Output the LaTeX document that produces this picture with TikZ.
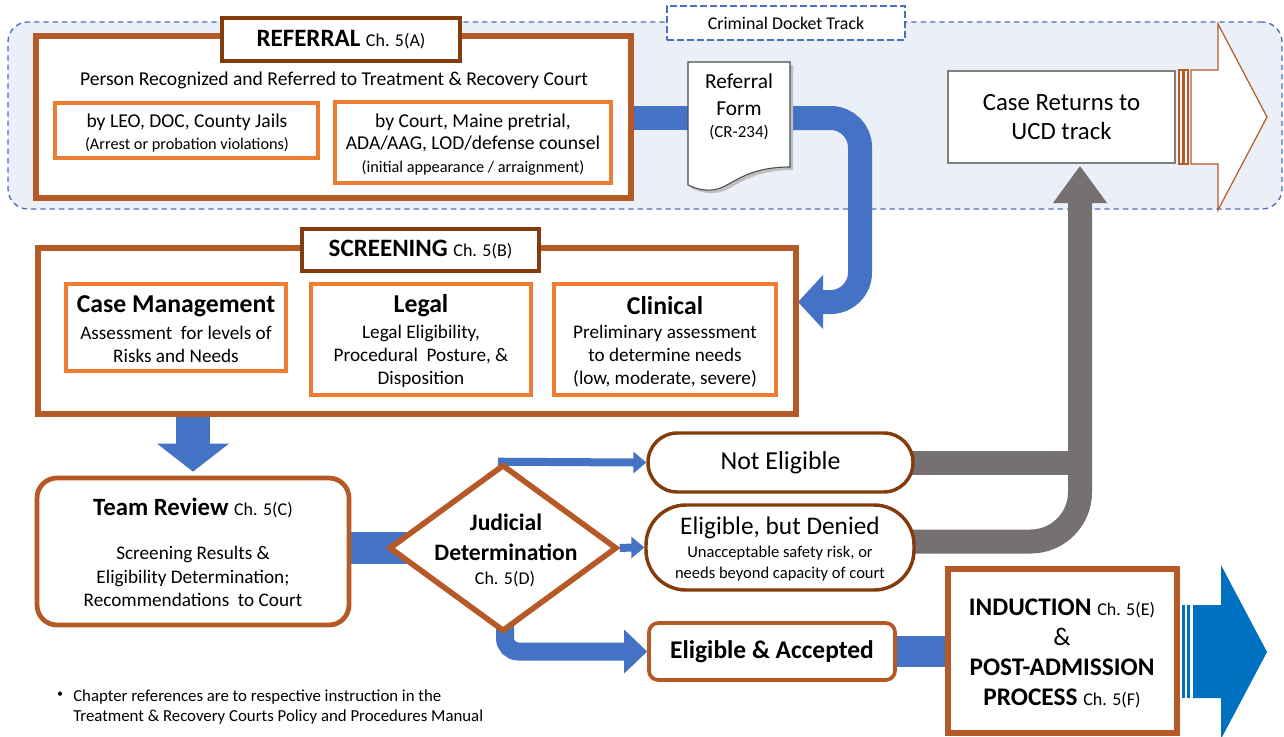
\documentclass[tikz,border=0pt]{standalone}
\usepackage{fontspec}
\setmainfont{Carlito}
\usetikzlibrary{shapes.geometric,fit,calc}
\definecolor{brn}{HTML}{B55A26}
\definecolor{dbrn}{HTML}{843C0C}
\definecolor{org}{HTML}{ED7D31}
\definecolor{blu}{HTML}{4472C4}
\definecolor{dblu}{HTML}{0070C0}
\definecolor{gry}{HTML}{767171}
\definecolor{bgfill}{HTML}{EAEFF8}
\definecolor{dashc}{HTML}{4A70BC}
\newcommand\szBig{\fontsize{18.75pt}{22pt}\selectfont}
\newcommand\szHead{\fontsize{18.6pt}{22pt}\selectfont}
\newcommand\szMid{\fontsize{19pt}{22pt}\selectfont}
\newcommand\szCh{\fontsize{13.5pt}{16pt}\selectfont}
\pgfdeclarelayer{back}
\pgfdeclarelayer{mid}
\pgfsetlayers{back,mid,main}
\tikzset{
  bx/.style={inner sep=0pt, fill=white},
  outerbox/.style={bx, draw=brn, line width=4.5pt},
  titlebox/.style={bx, draw=dbrn, line width=2.4pt},
  innerbox/.style={bx, draw=org, line width=2.9pt},
  pillbox/.style={bx, draw=dbrn, line width=2.6pt},
  txt/.style={inner sep=0pt, align=center},
}
\begin{document}
\begin{tikzpicture}[x=0.75pt,y=-0.75pt]
\useasboundingbox (0,0) rectangle (1284,736);

% ---------- background track ----------
\begin{pgfonlayer}{back}
\node[fit={(8,22)(1282,209)}, inner sep=0pt, fill=bgfill, draw=dashc, line width=1pt,
      dash pattern=on 4pt off 3pt, rounded corners=15pt] (track) {};
\end{pgfonlayer}
\node[fit={(667,6)(905,40)}, inner sep=0pt, fill=white, draw=dashc, line width=1.9pt,
      dash pattern=on 5pt off 2.5pt] (cdt) {};
\node[txt, font=\fontsize{13.4pt}{15pt}\selectfont] (cdtt) at (cdt.center) {Criminal Docket Track};

% ---------- REFERRAL ----------
\node[outerbox, fit={(36,36)(631,198)}] (ref) {};
\node[titlebox, fit={(222,18)(460,61)}] (reft) {};
\node[txt] (refttxt) at (reft.center) {{\szBig\bfseries REFERRAL\ }{\szCh Ch. 5(A)}};
\node[txt, font=\fontsize{14.7pt}{16pt}\selectfont] (person) at (334,80)
  {Person Recognized and Referred to Treatment \& Recovery Court};
\node[innerbox, fit={(55,103)(318,158)}] (leo) {};
\node[txt, font=\fontsize{14.7pt}{16.5pt}\selectfont] (leot) at (187,133)
  {by LEO, DOC, County Jails\\{\fontsize{12.2pt}{16.5pt}\selectfont (Arrest or probation violations)}};
\node[innerbox, fit={(335,102)(611,183)}] (crt) {};
\node[txt, font=\fontsize{14.7pt}{17pt}\selectfont] (crtt) at (473,144.5)
  {by Court, Maine pretrial,\\ADA/AAG, LOD/defense counsel\\{\fontsize{12.2pt}{17pt}\selectfont (initial appearance / arraignment)}};

% ---------- Referral form ----------
\node[fit={(688,62)(790,174)}, inner sep=0pt] (form) {};
\fill[black!25] (691,65) -- (793,65) -- (793,170) .. controls (758,170) and (743,181) .. (728,189)
   .. controls (715,196) and (701,193) .. (691,188) -- cycle;
\draw[fill=white, draw=black!70, line width=0.8pt] (688,62) -- (790,62) -- (790,167)
   .. controls (755,167) and (740,178) .. (725,186) .. controls (712,193) and (698,190) .. (688,185) -- cycle;
\node[txt, font=\fontsize{16pt}{20.25pt}\selectfont] (formt) at (739,94.5) {Referral\\Form};
\node[txt, font=\fontsize{12.7pt}{15pt}\selectfont] (formc) at (739,132) {(CR-234)};

% ---------- Case returns ----------
\node[bx, draw=black!50, line width=1pt, fit={(948,71)(1175,163)}] (ret) {};
\node[txt, font=\fontsize{18.6pt}{21.75pt}\selectfont] (rett) at (ret.center) {Case Returns to\\UCD track};
\draw[fill=white, draw=brn, line width=0.9pt] (1179,70) rectangle (1183,164);
\draw[fill=white, draw=brn, line width=0.9pt] (1184,70) rectangle (1188,164);
\draw[fill=white, draw=brn, line width=0.9pt] (1191,70) -- (1218,70) -- (1218,24) -- (1267,117)
   -- (1218,210) -- (1218,164) -- (1191,164) -- cycle;

% ---------- SCREENING ----------
\node[outerbox, fit={(38,248)(796,414)}] (scr) {};
\node[titlebox, fit={(302,229)(539,271)}] (scrt) {};
\node[txt] (scrttxt) at (scrt.center) {{\szBig\bfseries SCREENING\ }{\szCh Ch. 5(B)}};
\node[innerbox, fit={(66,284)(286,371)}] (cm) {};
\node[txt, font=\fontsize{19.3pt}{22pt}\selectfont\bfseries] (cmh) at (176,306) {Case Management};
\node[txt, font=\fontsize{14.4pt}{17.25pt}\selectfont] (cmt) at (176,344.5) {Assessment\ \ for levels of\\Risks and Needs};
\node[innerbox, fit={(311,284)(531,395)}] (leg) {};
\node[txt, font=\fontsize{19.3pt}{22pt}\selectfont\bfseries] (legh) at (421,306) {Legal};
\node[txt, font=\fontsize{14.4pt}{17.25pt}\selectfont] (legt) at (421,356) {Legal Eligibility,\\Procedural\ \ Posture, \&\\Disposition};
\node[innerbox, fit={(554,284)(776,395)}] (cli) {};
\node[txt, font=\fontsize{19.3pt}{22pt}\selectfont\bfseries] (clih) at (665,306) {Clinical};
\node[txt, font=\fontsize{14.4pt}{17.25pt}\selectfont] (clit) at (665,356) {Preliminary assessment\\to determine needs\\(low, moderate, severe)};

% ---------- Team review ----------
\node[outerbox, line width=3.6pt, rounded corners=15pt, fit={(37,478)(349,625)}] (team) {};
\node[txt] (teamh) at (193,508) {{\szHead\bfseries Team Review\ }{\szCh Ch. 5(C)}};
\node[txt, font=\fontsize{14.4pt}{17.6pt}\selectfont] (teamt) at (193,576.5)
  {Screening Results \&\\Eligibility Determination;\\Recommendations\ \ to Court};

% ---------- Judicial determination ----------
\node[diamond, draw=brn, fill=white, line width=4.2pt, inner sep=0pt,
      minimum width=171pt, minimum height=125.25pt] (jd) at (503,548) {};
\node[txt, font=\fontsize{17.7pt}{22.5pt}\selectfont\bfseries] (jdt) at (506,537) {Judicial\\Determination};
\node[txt, font=\szCh] (jdc) at (505,579) {Ch. 5(D)};

% ---------- outcomes ----------
\node[pillbox, rounded corners=22pt, fit={(648,433)(913,492)}] (ne) {};
\node[txt, font=\fontsize{19.4pt}{22pt}\selectfont] (net) at (ne.center) {Not Eligible};
\node[pillbox, rounded corners=30pt, fit={(646,505)(914,590)}] (den) {};
\node[txt, font=\szMid] (dent) at (780,528) {Eligible, but Denied};
\node[txt, font=\fontsize{12.4pt}{15.75pt}\selectfont] (dens) at (780,563.5)
  {Unacceptable safety risk, or\\needs beyond capacity of court};
\node[bx, draw=brn, line width=2.8pt, rounded corners=7pt, fit={(649,623)(895,680)}] (acc) {};
\node[txt, font=\fontsize{19.1pt}{22pt}\selectfont\bfseries] (acct) at (acc.center) {Eligible \& Accepted};

% ---------- Induction ----------
\node[outerbox, fit={(948,569)(1177,733)}] (ind) {};
\node[txt, font=\fontsize{19pt}{22.5pt}\selectfont] (indt) at (1062,653)
  {\textbf{INDUCTION} {\fontsize{13.5pt}{22.5pt}\selectfont Ch. 5(E)}\\\&\\\textbf{POST-ADMISSION}\\\textbf{PROCESS} {\fontsize{13.5pt}{22.5pt}\selectfont Ch. 5(F)}};
\fill[dblu] (1182,605) rectangle (1185,698);
\fill[dblu] (1187,605) rectangle (1190,698);
\fill[dblu] (1193,605) -- (1221,605) -- (1221,565) -- (1267,652) -- (1221,739) -- (1221,698) -- (1193,698) -- cycle;

% ---------- footnote ----------
\node[txt, font=\fontsize{9pt}{11pt}\selectfont] (bul) at (60,695) {•};
\node[inner sep=0pt, align=left, anchor=west, font=\fontsize{12.6pt}{15pt}\selectfont] (foot) at (73,707)
  {Chapter references are to respective instruction in the\\Treatment \& Recovery Courts Policy and Procedures Manual};

% ---------- connectors ----------
\begin{pgfonlayer}{mid}
  % referral -> form -> screening
  \draw[blu, line width=18pt] (ref.east |- form.west) -- (form.west);
  \coordinate (sT) at (798,302);
  \draw[blu, line width=18pt, rounded corners=22pt] (form.east) -- (860,118) -- (860,302) -- (822,302);
  \fill[blu] (823,275) -- (sT) -- (823,329) -- cycle;
  % screening -> team
  \coordinate (tb) at ($(team.north)+(0,-32)$);
  \draw[blu, line width=25.5pt] (team.north |- scr.south) -- (tb);
  \fill[blu] ($(tb)+(-36,0)$) -- ($(team.north)+(0,-4)$) -- ($(tb)+(36,0)$) -- cycle;
  % team -> jd
  \draw[blu, line width=24pt] (jd.west -| team.east) -- (jd.center);
  % jd -> not eligible
  \draw[blu, line width=6pt] ($(jd.north)+(-5,0)$) -- ($(ne.west)+(-12,0)$);
  \fill[blu] ($(ne.west)+(-13,-11)$) -- (ne.west) -- ($(ne.west)+(-13,11)$) -- cycle;
  % jd -> denied
  \draw[blu, line width=6pt] (jd.east) -- ($(den.west)+(-12,0)$);
  \fill[blu] ($(den.west)+(-13,-11)$) -- (den.west) -- ($(den.west)+(-13,11)$) -- cycle;
  % jd -> accepted
  \draw[blu, line width=13.5pt, rounded corners=10pt] ($(jd.south)+(2,-12)$) |- ($(acc.west)+(-22,0)$);
  \fill[blu] ($(acc.west)+(-23,-22)$) -- (acc.west) -- ($(acc.west)+(-23,22)$) -- cycle;
  % accepted -> induction
  \draw[blu, line width=23pt] (acc.east) -- (acc.east -| ind.west);
  % gray returns
  \coordinate (gt) at (1080,203);
  \coordinate (gtip) at (1080,166);
  \draw[gry, line width=18pt] ($(ne.east)+(-8,0)$) -- (ne.east -| gt);
  \draw[gry, line width=18pt, rounded corners=37pt] ($(den.east)+(-10,-6)$) -| (gt);
  \fill[gry] ($(gt)+(-27,0)$) -- (gtip) -- ($(gt)+(27,0)$) -- cycle;
\end{pgfonlayer}
\end{tikzpicture}
\end{document}
